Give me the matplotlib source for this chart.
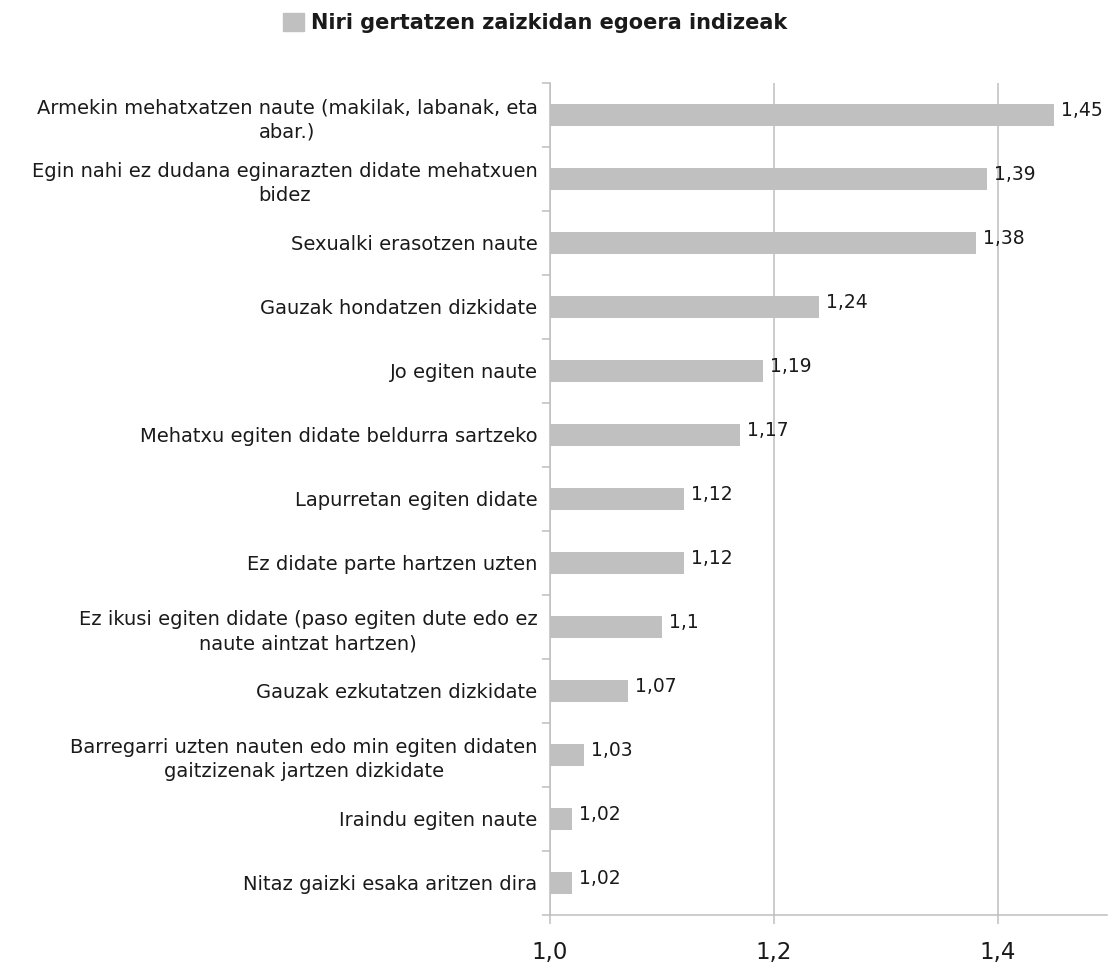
import numpy as np
import matplotlib.pyplot as plt
from matplotlib.patches import Patch

categories = [
    "Armekin mehatxatzen naute (makilak, labanak, eta\nabar.)",
    "Egin nahi ez dudana eginarazten didate mehatxuen\nbidez",
    "Sexualki erasotzen naute",
    "Gauzak hondatzen dizkidate",
    "Jo egiten naute",
    "Mehatxu egiten didate beldurra sartzeko",
    "Lapurretan egiten didate",
    "Ez didate parte hartzen uzten",
    "Ez ikusi egiten didate (paso egiten dute edo ez\nnaute aintzat hartzen)",
    "Gauzak ezkutatzen dizkidate",
    "Barregarri uzten nauten edo min egiten didaten\ngaitzizenak jartzen dizkidate",
    "Iraindu egiten naute",
    "Nitaz gaizki esaka aritzen dira",
]
values = [1.45, 1.39, 1.38, 1.24, 1.19, 1.17, 1.12, 1.12, 1.1, 1.07, 1.03, 1.02, 1.02]
xticks = [1.0, 1.2, 1.4]
series_name = "Niri gertatzen zaizkidan egoera indizeak"

bar_color = "#c0c0c0"
line_color = "#bfbfbf"
text_color = "#1a1a1a"

plt.rcParams["font.family"] = ["DejaVu Sans"]

fig = plt.figure(figsize=(11.09, 9.67), dpi=100)
ax = fig.add_axes([550 / 1109, 1 - 915 / 967, 557 / 1109, 832 / 967])

y = np.arange(len(categories))
ax.barh(y, np.array(values) - 1.0, left=1.0, height=0.34, color=bar_color, zorder=2)

for yi, v in zip(y, values):
    lbl = f"{v:g}".replace(".", ",")
    ax.annotate(lbl, (v, yi), xytext=(5, 3), textcoords="offset points",
                ha="left", va="center", fontsize=13.5, color=text_color)

ax.set_xlim(1.0, 1.0 + 557 / 1120)
ax.set_ylim(len(categories) - 0.5, -0.5)

ax.set_xticks(xticks)
ax.set_xticklabels([f"{t:.1f}".replace(".", ",") for t in xticks])
ax.set_yticks(y)
ax.set_yticklabels(categories, ma="center", linespacing=1.35)
ax.set_yticks(np.arange(-0.5, len(categories)), minor=True)

ax.tick_params(axis="y", which="major", length=0, pad=9, labelsize=14, labelcolor=text_color)
ax.tick_params(axis="y", which="minor", length=6, width=1.1, color=line_color)
ax.tick_params(axis="x", which="major", length=6.5, width=1.1, color=line_color,
               pad=12, labelsize=16.5, labelcolor=text_color)

ax.grid(axis="x", color=line_color, linewidth=1.1, zorder=0)
for side in ["top", "right"]:
    ax.spines[side].set_visible(False)
for side in ["left", "bottom"]:
    ax.spines[side].set_color(line_color)
    ax.spines[side].set_linewidth(1.1)
    ax.spines[side].set_zorder(3)

fig.legend(handles=[Patch(color=bar_color, label=series_name)], loc="center",
           bbox_to_anchor=(535 / 1109, 1 - 23 / 967), frameon=False,
           prop={"size": 15, "weight": "bold"}, labelcolor=text_color,
           handlelength=1.0, handleheight=1.0, handletextpad=0.35)

fig.savefig("out.png", dpi=100)
plt.close(fig)
